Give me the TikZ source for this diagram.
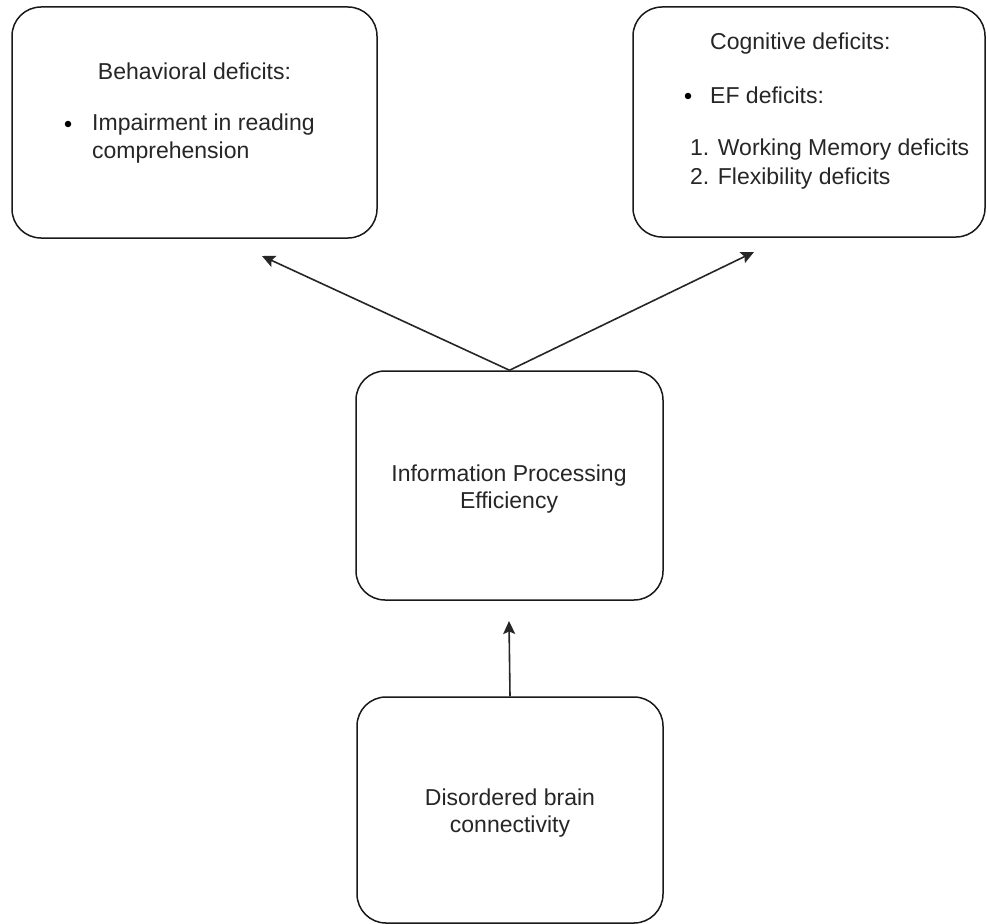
\documentclass[tikz,border=0pt]{standalone}
\usepackage{fontspec}
\setmainfont{Liberation Sans}
\usetikzlibrary{arrows.meta}

\begin{document}
\begin{tikzpicture}[x=1pt, y=-1pt,
  box/.style={draw=black!90, line width=1.5pt, rounded corners=29pt, fill=white, inner sep=0pt},
  txt/.style={anchor=base west, inner sep=0pt, text=black!85, font=\fontsize{23}{27}\selectfont},
  ctxt/.style={anchor=base, inner sep=0pt, text=black!85, font=\fontsize{23}{27}\selectfont},
  bulletdot/.style={circle, fill=black, inner sep=0pt, minimum size=6.5pt},
  link/.style={draw=black!85, line width=1.6pt, -{Stealth[length=13pt, width=12pt, inset=2.5pt]}}
]
\useasboundingbox (0,0) rectangle (987,923);
\fill[white] (0,0) rectangle (987,923);

% the four boxes
\node[box, minimum width=365pt, minimum height=231pt] (behav) at (194.5,122.5) {};
\node[box, minimum width=352pt, minimum height=230pt] (cogn) at (809,122) {};
\node[box, minimum width=307pt, minimum height=229pt] (ipe) at (509.5,485.5) {};
\node[box, minimum width=306pt, minimum height=226pt] (brain) at (510,810) {};

% behavioural deficits
\node[ctxt] (behavT) at (194.5,80) {Behavioral deficits:};
\node[bulletdot] (behavB) at (68,124) {};
\node[txt] (behavL1) at (92,131) {Impairment in reading};
\node[txt] (behavL2) at (92,158) {comprehension};

% cognitive deficits
\node[txt] (cognT) at (710,50) {Cognitive deficits:};
\node[bulletdot] (cognB) at (688,96) {};
\node[txt] (cognL1) at (710,103) {EF deficits:};
\node[txt] (cognL2) at (690,155) {1. Working Memory deficits};
\node[txt] (cognL3) at (690,184) {2. Flexibility deficits};

% processing efficiency
\node[ctxt] (ipeL1) at (509,481) {Information Processing};
\node[ctxt] (ipeL2) at (509,508) {Efficiency};

% brain connectivity
\node[ctxt] (brainL1) at (510,805) {Disordered brain};
\node[ctxt] (brainL2) at (510,832) {connectivity};

% connector ends
\coordinate (toBehav) at (262,256);
\coordinate (toCogn) at (754,252);
\coordinate (toIpe) at (509,621);

\draw[link] (ipe.north) -- (toBehav);
\draw[link] (ipe.north) -- (toCogn);
\draw[link] (brain.north) -- (toIpe);
\end{tikzpicture}
\end{document}
